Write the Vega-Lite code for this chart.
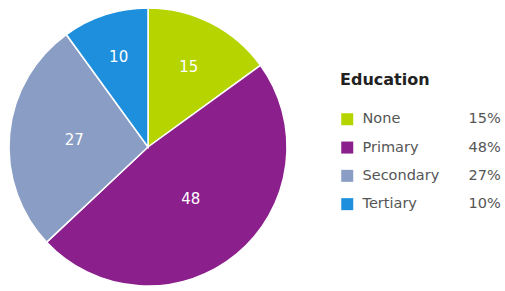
{
  "$schema": "https://vega.github.io/schema/vega-lite/v6.json",
  "width": 296,
  "height": 288,
  "padding": {"left": 0, "top": 3, "right": 0, "bottom": 0},
  "background": "white",
  "config": {"view": {"stroke": null}, "font": "DejaVu Sans"},
  "data": {
    "values": [
      {"Education": "None", "Value": 15},
      {"Education": "Primary", "Value": 48},
      {"Education": "Secondary", "Value": 27},
      {"Education": "Tertiary", "Value": 10}
    ]
  },
  "encoding": {
    "theta": {"field": "Value", "type": "quantitative", "stack": true},
    "order": {"field": "Education", "type": "ordinal", "sort": "ascending"}
  },
  "layer": [
    {
      "mark": {"type": "arc", "outerRadius": 139, "stroke": "white", "strokeWidth": 1.5},
      "encoding": {
        "color": {
          "field": "Education",
          "type": "nominal",
          "scale": {
            "domain": ["None", "Primary", "Secondary", "Tertiary"],
            "range": ["#b6d400", "#8b1f8c", "#8a9dc5", "#1e8fdc"]
          },
          "legend": {
            "title": "Education",
            "orient": "none",
            "legendX": 340,
            "legendY": 69,
            "padding": 0,
            "titleFontSize": 16,
            "titleFontWeight": "bold",
            "titleColor": "#222222",
            "titlePadding": 24,
            "symbolType": "square",
            "symbolSize": 144,
            "symbolStrokeWidth": 0,
            "symbolOpacity": 1,
            "labelFontSize": 14.5,
            "labelColor": "#555555",
            "labelOffset": 8,
            "rowPadding": 13.3
          }
        },
        "opacity": {
          "field": "Value",
          "type": "ordinal",
          "scale": {"domain": [15, 48, 27, 10], "range": [1, 1, 1, 1]},
          "legend": {
            "title": null,
            "orient": "none",
            "legendX": 446,
            "legendY": 109,
            "padding": 0,
            "symbolType": "square",
            "symbolSize": 144,
            "symbolFillColor": "white",
            "symbolStrokeColor": "white",
            "symbolStrokeWidth": 0,
            "labelFontSize": 14.5,
            "labelColor": "#555555",
            "labelOffset": 8,
            "rowPadding": 13.3,
            "labelExpr": "datum.label + '%'"
          }
        }
      }
    },
    {
      "mark": {"type": "text", "fill": "white", "fontSize": 15},
      "encoding": {
        "text": {"field": "Value", "type": "quantitative"},
        "radius": {
          "field": "Value",
          "type": "quantitative",
          "scale": {"domain": [10, 15, 27, 48], "range": [95, 90, 74, 67], "zero": false}
        }
      }
    }
  ]
}
